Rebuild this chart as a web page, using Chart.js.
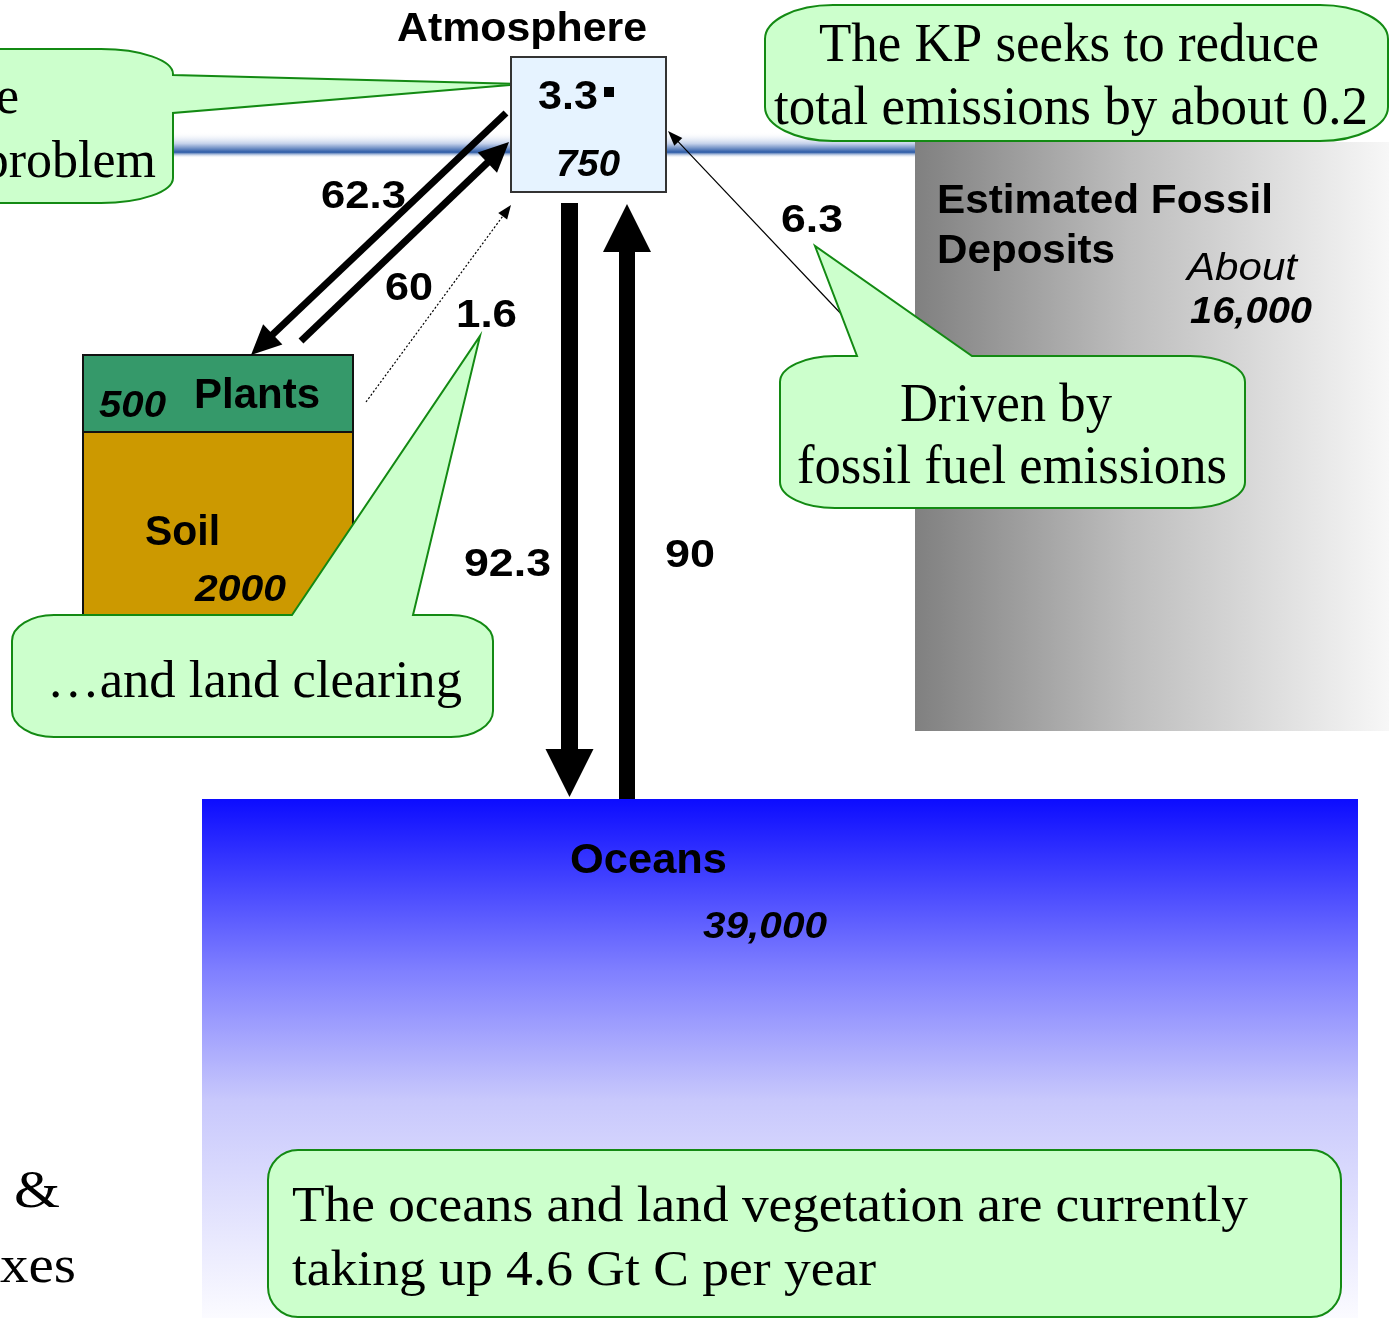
<!DOCTYPE html>
<html>
<head>
<meta charset="utf-8">
<script src="https://cdn.jsdelivr.net/npm/chart.js@4.4.1/dist/chart.umd.min.js"></script>
<style>
  html, body { margin: 0; padding: 0; background: #fff; }
  #wrap { width: 1389px; height: 1318px; }
</style>
</head>
<body>
<div id="wrap"><canvas id="carbonChart"></canvas></div>
<script>
// carbon stocks, Gt C
var stockNames = ['Atmosphere', 'Plants', 'Soil', 'Oceans', 'Estimated Fossil', 'Deposits'];
var stockValues = ['750', '500', '2000', '39,000', '16,000'];
var fossilPrefix = 'About';
// fluxes, Gt C per year
var fluxValues = [62.3, 60, 1.6, 92.3, 90, 6.3];
var atmosphereIncrease = 3.3;
// callout texts
var problemNote = ['e', 'problem'];
var kpNote = ['The KP seeks to reduce', 'total emissions by about 0.2'];
var fossilNote = ['Driven by', 'fossil fuel emissions'];
var landNote = ['\u2026and land clearing'];
var uptakeNote = ['The oceans and land vegetation are currently', 'taking up 4.6 Gt C per year'];
var sideNote = ['&', 'xes'];

var SANS = '"Liberation Sans", Arial, sans-serif';
var SERIF = '"Liberation Serif", "Times New Roman", serif';

var diagram = {
  id: 'diagram',
  beforeDraw: function(chart) {
    var ctx = chart.ctx;
    var xs = chart.scales.x, ys = chart.scales.y;
    function X(v) { return xs.getPixelForValue(v); }
    function Y(v) { return ys.getPixelForValue(v); }

    function rect(x0, y0, x1, y1, fill, stroke, lw) {
      ctx.beginPath();
      ctx.rect(X(x0), Y(y0), X(x1) - X(x0), Y(y1) - Y(y0));
      if (fill) { ctx.fillStyle = fill; ctx.fill(); }
      if (stroke) { ctx.strokeStyle = stroke; ctx.lineWidth = lw || 1; ctx.stroke(); }
    }

    function text(s, x, y, font, w, align) {
      ctx.save();
      ctx.font = font;
      ctx.fillStyle = '#000';
      ctx.textBaseline = 'alphabetic';
      var m = ctx.measureText(s).width;
      ctx.translate(X(x), Y(y));
      if (w) ctx.scale(w / m, 1);
      ctx.textAlign = align || 'left';
      ctx.fillText(s, 0, 0);
      ctx.restore();
    }

    function arrow(x0, y0, x1, y1, lw, hl, hw, dash) {
      var dx = X(x1) - X(x0), dy = Y(y1) - Y(y0);
      var len = Math.sqrt(dx * dx + dy * dy);
      var ux = dx / len, uy = dy / len;
      var bx = X(x1) - ux * hl, by = Y(y1) - uy * hl;
      ctx.save();
      ctx.strokeStyle = '#000';
      ctx.fillStyle = '#000';
      ctx.lineWidth = lw;
      if (dash) ctx.setLineDash(dash);
      ctx.beginPath();
      ctx.moveTo(X(x0), Y(y0));
      ctx.lineTo(bx + ux * 2, by + uy * 2);
      ctx.stroke();
      ctx.setLineDash([]);
      ctx.beginPath();
      ctx.moveTo(X(x1), Y(y1));
      ctx.lineTo(bx - uy * hw / 2, by + ux * hw / 2);
      ctx.lineTo(bx + uy * hw / 2, by - ux * hw / 2);
      ctx.closePath();
      ctx.fill();
      ctx.restore();
    }

    // rounded callout with a pointer on the top or right side
    function callout(x0, y0, x1, y1, rx, ry, tail) {
      var k = 0.55;
      var L = X(x0), T = Y(y0), R = X(x1), B = Y(y1);
      ctx.beginPath();
      ctx.moveTo(L + rx, T);
      if (tail && tail.side === 'top') {
        ctx.lineTo(X(tail.a), T);
        ctx.lineTo(X(tail.tx), Y(tail.ty));
        ctx.lineTo(X(tail.b), T);
      }
      ctx.lineTo(R - rx, T);
      ctx.bezierCurveTo(R - rx + rx * k, T, R, T + ry - ry * k, R, T + ry);
      if (tail && tail.side === 'right') {
        ctx.lineTo(R, Y(tail.a));
        ctx.lineTo(X(tail.tx), Y(tail.ty));
        ctx.lineTo(R, Y(tail.b));
      }
      ctx.lineTo(R, B - ry);
      ctx.bezierCurveTo(R, B - ry + ry * k, R - rx + rx * k, B, R - rx, B);
      ctx.lineTo(L + rx, B);
      ctx.bezierCurveTo(L + rx - rx * k, B, L, B - ry + ry * k, L, B - ry);
      ctx.lineTo(L, T + ry);
      ctx.bezierCurveTo(L, T + ry - ry * k, L + rx - rx * k, T, L + rx, T);
      ctx.closePath();
      ctx.fillStyle = '#ccffcc';
      ctx.fill();
      ctx.strokeStyle = '#138a13';
      ctx.lineWidth = 2;
      ctx.stroke();
    }

    ctx.save();
    ctx.fillStyle = '#fff';
    ctx.fillRect(0, 0, chart.width, chart.height);

    // horizon band
    var band = ctx.createLinearGradient(0, Y(132), 0, Y(158));
    band.addColorStop(0, 'rgba(255,255,255,0)');
    band.addColorStop(0.45, '#c3d0ea');
    band.addColorStop(0.78, '#2b5aa6');
    band.addColorStop(1, 'rgba(255,255,255,0)');
    rect(0, 132, 915, 158, band);

    // fossil deposits
    var fossil = ctx.createLinearGradient(X(915), 0, X(1389), 0);
    fossil.addColorStop(0, '#808080');
    fossil.addColorStop(0.45, '#bdbdbd');
    fossil.addColorStop(1, '#f7f7f7');
    rect(915, 142, 1389, 731, fossil);

    // ocean
    var sea = ctx.createLinearGradient(0, Y(799), 0, Y(1318));
    sea.addColorStop(0, '#0c0cff');
    sea.addColorStop(0.33, '#7f7fff');
    sea.addColorStop(0.58, '#c8c8fc');
    sea.addColorStop(1, '#fbfbff');
    rect(202, 799, 1358, 1318, sea);

    // callouts behind the boxes
    callout(-120, 49, 173, 203, 72, 25, { side: 'right', a: 75, b: 113, tx: 522, ty: 84 });
    callout(765, 5, 1388, 141, 68, 34, null);

    // atmosphere box
    rect(511, 57, 666, 192, '#e6f3ff', '#333', 2);

    // plants and soil
    rect(83, 355, 353, 432, '#35996a', '#111', 2);
    rect(83, 432, 353, 640, '#cc9900', '#111', 2);

    // fluxes
    arrow(506, 113, 251, 355, 7, 30, 28);
    arrow(301, 341, 509, 142, 7, 30, 28);
    arrow(366, 402, 511, 205, 1.2, 14, 11, [2, 2]);
    arrow(569.5, 203, 569.5, 797, 17, 48, 48);
    arrow(627, 799, 627, 204, 16, 48, 48);
    arrow(845, 318, 668, 131, 1.2, 15, 11);

    callout(12, 615, 493, 737, 42, 26, { side: 'top', a: 292, b: 413, tx: 480, ty: 336 });
    callout(780, 356, 1245, 508, 55, 26, { side: 'top', a: 857, b: 972, tx: 815, ty: 246 });
    callout(268, 1150, 1341, 1317, 30, 30, null);

    // stock labels
    var B40 = 'bold 40px ' + SANS, BI37 = 'italic bold 37px ' + SANS;
    text(stockNames[0], 397, 41, B40, 250);
    text(String(atmosphereIncrease), 538, 109, B40, 60);
    rect(604, 87, 614, 97, '#000');
    text(stockValues[0], 556, 176, 'italic bold 36px ' + SANS, 64);
    text(stockValues[1], 99, 417, BI37, 67);
    text(stockNames[1], 194, 408, 'bold 42px ' + SANS, 126);
    text(stockNames[2], 145, 545, 'bold 42px ' + SANS, 75);
    text(stockValues[2], 195, 601, BI37, 91);
    text(stockNames[4], 937, 213, 'bold 41px ' + SANS, 336);
    text(stockNames[5], 937, 263, 'bold 41px ' + SANS, 178);
    text(fossilPrefix, 1187, 280, 'italic 38px ' + SANS, 110);
    text(stockValues[4], 1190, 323, BI37, 122);
    text(stockNames[3], 570, 873, 'bold 42px ' + SANS, 157);
    text(stockValues[3], 703, 938, BI37, 124);

    // flux labels
    var B39 = 'bold 39px ' + SANS;
    text(String(fluxValues[0]), 321, 208, B39, 85);
    text(String(fluxValues[1]), 385, 300, B39, 48);
    text(String(fluxValues[2]), 456, 327, B39, 61);
    text(String(fluxValues[3]), 464, 576, B39, 87);
    text(String(fluxValues[4]), 665, 567, B39, 50);
    text(String(fluxValues[5]), 781, 232, B39, 62);

    // callout texts
    var S52 = '52px ' + SERIF;
    text(problemNote[0], 19, 113, S52, null, 'right');
    text(problemNote[1], 156, 177, S52, null, 'right');
    text(kpNote[0], 819, 61, '54px ' + SERIF, 500);
    text(kpNote[1], 774, 124, '54px ' + SERIF, 594);
    text(fossilNote[0], 900, 421, '54px ' + SERIF, 212);
    text(fossilNote[1], 797, 483, '54px ' + SERIF, 430);
    text(landNote[0], 47, 697, S52, 415);
    text(uptakeNote[0], 292, 1221, '50px ' + SERIF, 956);
    text(uptakeNote[1], 292, 1285, '50px ' + SERIF, 584);
    text(sideNote[0], 14, 1207, S52, 46);
    text(sideNote[1], 0, 1282, S52, 76);

    ctx.restore();
  }
};

var ctx = document.getElementById('carbonChart').getContext('2d');
var carbonChart = new Chart(ctx, {
  type: 'scatter',
  data: { datasets: [] },
  options: {
    responsive: true,
    maintainAspectRatio: false,
    animation: false,
    layout: { padding: 0 },
    plugins: { legend: { display: false }, tooltip: { enabled: false } },
    scales: {
      x: { type: 'linear', min: 0, max: 1389, display: false },
      y: { type: 'linear', min: 0, max: 1318, reverse: true, display: false }
    }
  },
  plugins: [diagram]
});
</script>
</body>
</html>
